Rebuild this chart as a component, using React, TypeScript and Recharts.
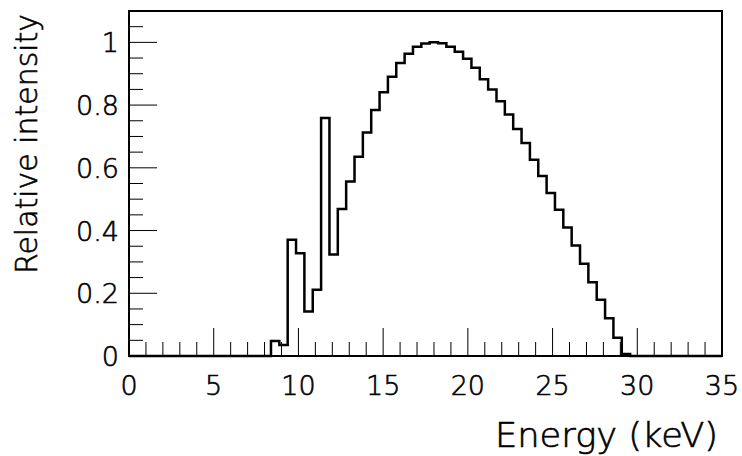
import React from 'react';
import { ComposedChart, Line, XAxis, YAxis, ReferenceArea } from 'recharts';

// 71 bins over 0-35 keV (normalised to peak = 1)
const BIN_WIDTH = 35 / 71;
const intensity = [
  0, 0, 0, 0, 0, 0, 0, 0, 0, 0,
  0, 0, 0, 0, 0, 0, 0, 0.048, 0.035, 0.371,
  0.328, 0.142, 0.211, 0.759, 0.324, 0.469, 0.556, 0.635, 0.713, 0.784,
  0.841, 0.89, 0.934, 0.964, 0.986, 0.996, 1.0, 0.997, 0.986, 0.97,
  0.948, 0.919, 0.882, 0.85, 0.812, 0.77, 0.724, 0.679, 0.626, 0.574,
  0.52, 0.466, 0.41, 0.352, 0.294, 0.235, 0.179, 0.12, 0.058, 0.006,
  0, 0, 0, 0, 0, 0, 0, 0, 0, 0,
  0,
];

const xTicks = [
  0, 1, 2, 3, 4, 5, 6, 7, 8, 9, 10, 11, 12, 13, 14, 15, 16, 17,
  18, 19, 20, 21, 22, 23, 24, 25, 26, 27, 28, 29, 30, 31, 32, 33, 34, 35,
];
const yTicks = [
  0, 0.05, 0.1, 0.15, 0.2, 0.25, 0.3, 0.35, 0.4, 0.45, 0.5,
  0.55, 0.6, 0.65, 0.7, 0.75, 0.8, 0.85, 0.9, 0.95, 1, 1.05,
];

// thin ROOT-like glyphs: ExtraLight face thickened a little with a stroke
const txt = {
  fontFamily: '"DejaVu Sans", sans-serif',
  fontWeight: 200,
  fill: '#000',
  stroke: '#000',
  strokeWidth: 0.6,
};

// histogram drawn as a step line through the lower edge of every bin
const rows = intensity.map((v, i) => ({ e: i * BIN_WIDTH, v }));
rows.push({ e: 35, v: intensity[intensity.length - 1] });

const XTick = (props: any) => {
  const { x, y, payload } = props;
  const major = payload.value % 5 === 0;
  return (
    <g>
      <line x1={x} y1={y} x2={x} y2={y - (major ? 28 : 14)} stroke="#000" strokeWidth={1} />
      {major && (
        <text x={x} y={y + 39} textAnchor="middle" fontSize={27} {...txt}>
          {payload.value}
        </text>
      )}
    </g>
  );
};

const YTick = (props: any) => {
  const { x, y, payload } = props;
  const v = payload.value;
  const major = Math.abs(v * 5 - Math.round(v * 5)) < 1e-6;
  return (
    <g>
      <line x1={x} y1={y} x2={x + (major ? 28 : 14)} y2={y} stroke="#000" strokeWidth={1} />
      {major && (
        <text x={x - 10} y={y + 10} textAnchor="end" fontSize={27} {...txt}>
          {String(Math.round(v * 10) / 10)}
        </text>
      )}
    </g>
  );
};

const App: React.FC = () => {
  return (
    <div style={{ position: 'absolute', left: 0, top: 0, background: '#fff' }}>
      <ComposedChart
        width={742}
        height={456}
        data={rows}
        margin={{ top: 11, right: 20, left: 0, bottom: 0 }}
      >
        <XAxis
          type="number"
          dataKey="e"
          domain={[0, 35]}
          ticks={xTicks}
          interval={0}
          tick={XTick}
          tickLine={false}
          tickSize={0}
          tickMargin={0}
          axisLine={false}
          height={100}
          label={{
            content: (p: any) => {
              const vb = p.viewBox;
              return (
                <text
                  x={vb.x + vb.width - 4}
                  y={vb.y + 91}
                  textAnchor="end"
                  textLength={223}
                  lengthAdjust="spacingAndGlyphs"
                  fontSize={33}
                  {...txt}
                >
                  Energy (keV)
                </text>
              );
            },
          }}
        />
        <YAxis
          type="number"
          domain={[0, 1.1]}
          ticks={yTicks}
          interval={0}
          tick={YTick}
          tickLine={false}
          tickSize={0}
          tickMargin={0}
          axisLine={false}
          width={129}
          label={{
            content: (p: any) => {
              const vb = p.viewBox;
              const cy = vb.y + 133;
              return (
                <text
                  x={37}
                  y={cy}
                  transform={`rotate(-90, 37, ${cy})`}
                  textAnchor="middle"
                  textLength={260}
                  lengthAdjust="spacingAndGlyphs"
                  fontSize={31}
                  {...txt}
                >
                  Relative intensity
                </text>
              );
            },
          }}
        />
        <ReferenceArea x1={0} x2={35} y1={0} y2={1.1} fill="none" stroke="#000" strokeWidth={2} />
        <Line
          type="stepAfter"
          dataKey="v"
          stroke="#000"
          strokeWidth={2.5}
          dot={false}
          activeDot={false}
          isAnimationActive={false}
        />
      </ComposedChart>
    </div>
  );
};

export default App;
